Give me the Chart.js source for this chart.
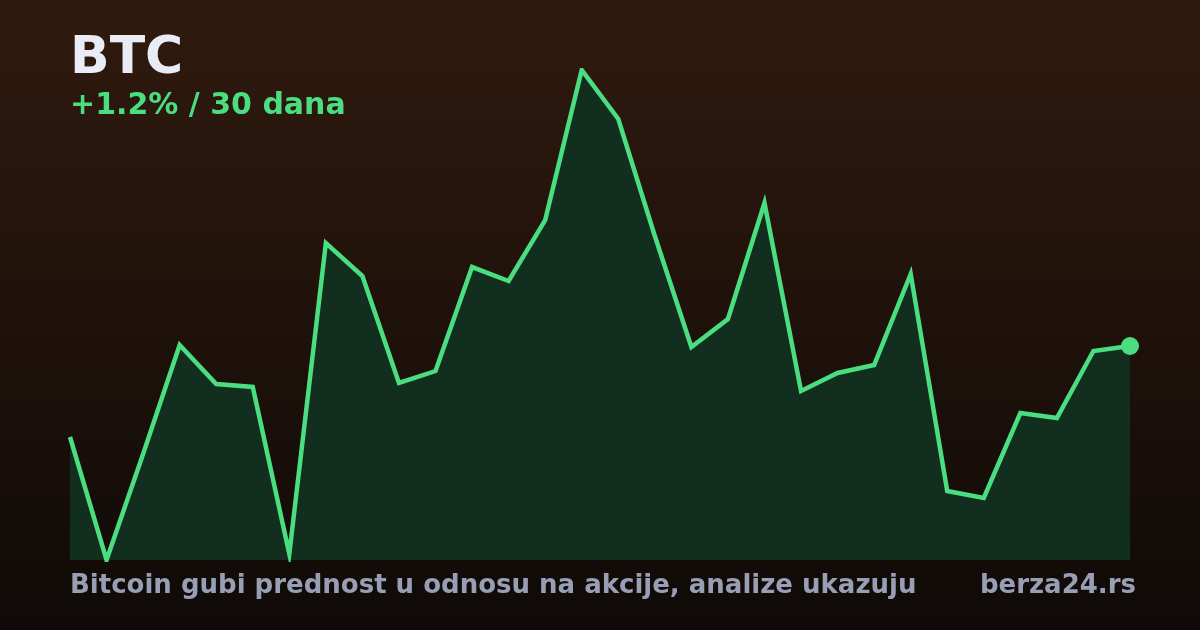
<!DOCTYPE html>
<html>
<head>
<meta charset="utf-8">
<script src="https://cdn.jsdelivr.net/npm/chart.js@4/dist/chart.umd.min.js"></script>
<style>
  html, body { margin: 0; padding: 0; }
  body { width: 1200px; height: 630px; overflow: hidden; }
  #wrap {
    position: relative; width: 1200px; height: 630px;
    background: linear-gradient(180deg, #301a0e 0%, #0f0a08 100%);
    font-family: "DejaVu Sans", sans-serif; font-weight: bold;
  }
  #chart { position: absolute; left: 0; top: 0; }
  .t { position: absolute; white-space: nowrap; margin: 0; }
  #title { left: 70px; top: 29px; font-size: 52px; line-height: 52px; color: #e9ecf4; }
  #sub { left: 70px; top: 89px; font-size: 30px; line-height: 30px; color: #4ade80; }
  #foot { left: 70px; top: 571px; font-size: 26px; line-height: 26px; color: #989eb3; }
  #src { right: 64px; top: 571px; font-size: 26px; line-height: 26px; color: #989eb3; }
</style>
</head>
<body>
<div id="wrap">
  <canvas id="chart" width="1200" height="630"></canvas>
  <div class="t" id="title">BTC</div>
  <div class="t" id="sub">+1.2% / 30 dana</div>
  <div class="t" id="foot">Bitcoin gubi prednost u odnosu na akcije, analize ukazuju</div>
  <div class="t" id="src">berza24.rs</div>
</div>
<script>
const days = ["1","2","3","4","5","6","7","8","9","10","11","12","13","14","15",
              "16","17","18","19","20","21","22","23","24","25","26","27","28","29","30"];
const prices = [97000, 95427, 96783, 98177, 97678, 97640, 95504, 99481, 99059, 97691,
                97844, 99174, 98995, 99775, 101694, 101067, 99571, 98151, 98509, 99993,
                97588, 97819, 97921, 99085, 96309, 96220, 97307, 97243, 98100, 98164];

const lineColor = "#4ade80";
const areaColor = "#122e1f";

new Chart(document.getElementById("chart"), {
  type: "line",
  data: {
    labels: days,
    datasets: [{
      data: prices,
      borderColor: lineColor,
      borderWidth: 4.5,
      backgroundColor: areaColor,
      fill: "start",
      tension: 0,
      clip: { left: 2, top: 2, right: false, bottom: 2 },
      pointRadius: (c) => c.dataIndex === prices.length - 1 ? 9 : 0,
      pointHoverRadius: (c) => c.dataIndex === prices.length - 1 ? 9 : 0,
      pointBackgroundColor: lineColor,
      pointBorderWidth: 0
    }]
  },
  options: {
    responsive: false,
    animation: false,
    devicePixelRatio: 1,
    layout: { padding: { left: 70, right: 70, top: 70, bottom: 70 } },
    plugins: { legend: { display: false }, tooltip: { enabled: false }, title: { display: false } },
    scales: {
      x: { type: "category", display: false, offset: false },
      y: { display: false, min: Math.min(...prices), max: Math.max(...prices) }
    }
  }
});
</script>
</body>
</html>
